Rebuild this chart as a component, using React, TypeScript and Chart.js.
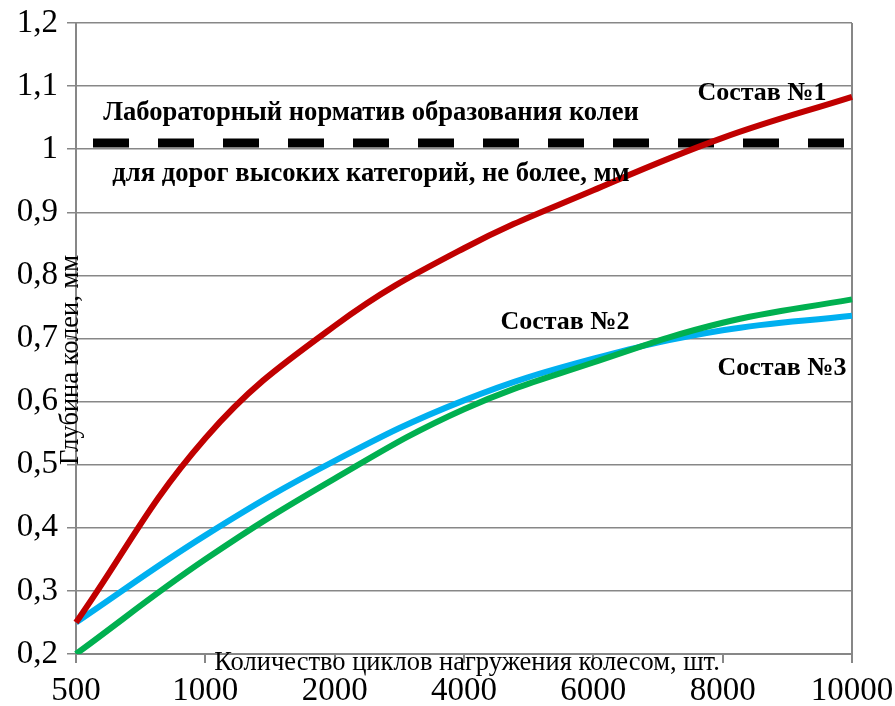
import React, { useEffect, useRef } from 'react';
import { Chart, registerables } from 'chart.js';

Chart.register(...registerables);

const cycles = ['500', '1000', '2000', '4000', '6000', '8000', '10000'];
const sostav1 = [0.25, 0.542, 0.72, 0.843, 0.935, 1.018, 1.083];
const sostav2 = [0.25, 0.388, 0.506, 0.602, 0.668, 0.713, 0.736];
const sostav3 = [0.2, 0.35, 0.478, 0.588, 0.662, 0.725, 0.762];
const normLevel = [1.01, 1.01, 1.01, 1.01, 1.01, 1.01, 1.01];
const yTicks = [0.2, 0.3, 0.4, 0.5, 0.6, 0.7, 0.8, 0.9, 1.0, 1.1, 1.2];
const yTickLabels = ['0,2', '0,3', '0,4', '0,5', '0,6', '0,7', '0,8', '0,9', '1', '1,1', '1,2'];

const seriesNames = ['Состав №1', 'Состав №2', 'Состав №3'];
const normText = ['Лабораторный норматив образования колеи', 'для дорог высоких категорий, не более, мм'];
const xTitle = 'Количество циклов нагружения колесом, шт.';
const yTitle = 'Глубина колеи, мм';

const GRAY = '#878787';
const SERIF = '"Liberation Serif", "Times New Roman", serif';

Chart.defaults.font.family = SERIF;

const textPlugin = {
  id: 'textPlugin',
  afterDatasetsDraw(chart: any) {
    const ctx = chart.ctx;
    ctx.save();
    ctx.fillStyle = '#000';
    ctx.textBaseline = 'alphabetic';
    ctx.textAlign = 'center';
    ctx.font = `bold 26.6px ${SERIF}`;
    ctx.fillText(normText[0], 371, 120);
    ctx.fillText(normText[1], 371, 181);
    ctx.font = `bold 26px ${SERIF}`;
    ctx.fillText(seriesNames[0], 762, 100);
    ctx.fillText(seriesNames[1], 565, 329);
    ctx.fillText(seriesNames[2], 782, 375);

    ctx.font = `26.5px ${SERIF}`;
    ctx.fillText(xTitle, 467, 670);
    ctx.translate(78, 360);
    ctx.rotate(-Math.PI / 2);
    ctx.fillText(yTitle, 0, 0);
    ctx.restore();
  },
};

export default function App() {
  const ref = useRef<HTMLCanvasElement>(null);

  useEffect(() => {
    if (!ref.current) return;
    const chart = new Chart(ref.current, {
      type: 'line',
      data: {
        labels: cycles,
        datasets: [
          {
            label: 'Норматив',
            data: normLevel,
            borderColor: '#000',
            borderWidth: 9,
            borderDash: [36, 29],
            borderDashOffset: 48,
            borderCapStyle: 'butt',
            pointRadius: 0,
            tension: 0,
            order: 4,
          },
          {
            label: seriesNames[0],
            data: sostav1,
            borderColor: '#C00000',
            borderWidth: 6,
            pointRadius: 0,
            tension: 0.4,
            order: 2,
          },
          {
            label: seriesNames[1],
            data: sostav2,
            borderColor: '#00B0F0',
            borderWidth: 6,
            pointRadius: 0,
            tension: 0.4,
            order: 3,
          },
          {
            label: seriesNames[2],
            data: sostav3,
            borderColor: '#00B050',
            borderWidth: 6,
            pointRadius: 0,
            tension: 0.4,
            order: 1,
          },
        ],
      },
      options: {
        responsive: false,
        animation: false,
        devicePixelRatio: 1,
        layout: { padding: { left: 0, right: 43, top: 23, bottom: 0 } },
        plugins: { legend: { display: false }, tooltip: { enabled: false } },
        scales: {
          x: {
            offset: false,
            grid: {
              display: true,
              drawOnChartArea: true,
              color: (c: any) => (c.index === cycles.length - 1 ? GRAY : 'rgba(0,0,0,0)'),
              tickColor: GRAY,
              tickLength: 9,
              lineWidth: 2,
            },
            border: { display: true, color: GRAY, width: 2 },
            ticks: {
              color: '#000',
              font: { family: SERIF, size: 33 },
              maxRotation: 0,
              autoSkip: false,
              padding: 9,
            },
            afterFit: (s: any) => {
              s.height = 52;
              s.paddingLeft = 0;
              s.paddingRight = 0;
            },
          },
          y: {
            min: 0.2,
            max: 1.2,
            afterBuildTicks: (s: any) => {
              s.ticks = yTicks.map((v) => ({ value: v }));
            },
            grid: { color: GRAY, lineWidth: 1.5, tickLength: 9, tickColor: GRAY },
            border: { display: true, color: GRAY, width: 2 },
            ticks: {
              color: '#000',
              font: { family: SERIF, size: 33 },
              padding: 9,
              callback: (v: any) => {
                const i = yTicks.findIndex((t) => Math.abs(t - Number(v)) < 1e-6);
                return i >= 0 ? yTickLabels[i] : '';
              },
            },
            afterFit: (s: any) => {
              s.width = 76;
              s.paddingTop = 0;
              s.paddingBottom = 0;
            },
          },
        },
      },
      plugins: [textPlugin],
    });
    return () => chart.destroy();
  }, []);

  return (
    <div style={{ position: 'fixed', left: 0, top: 0, width: 895, height: 706, background: '#fff' }}>
      <canvas ref={ref} width={895} height={706} style={{ display: 'block' }} />
    </div>
  );
}
